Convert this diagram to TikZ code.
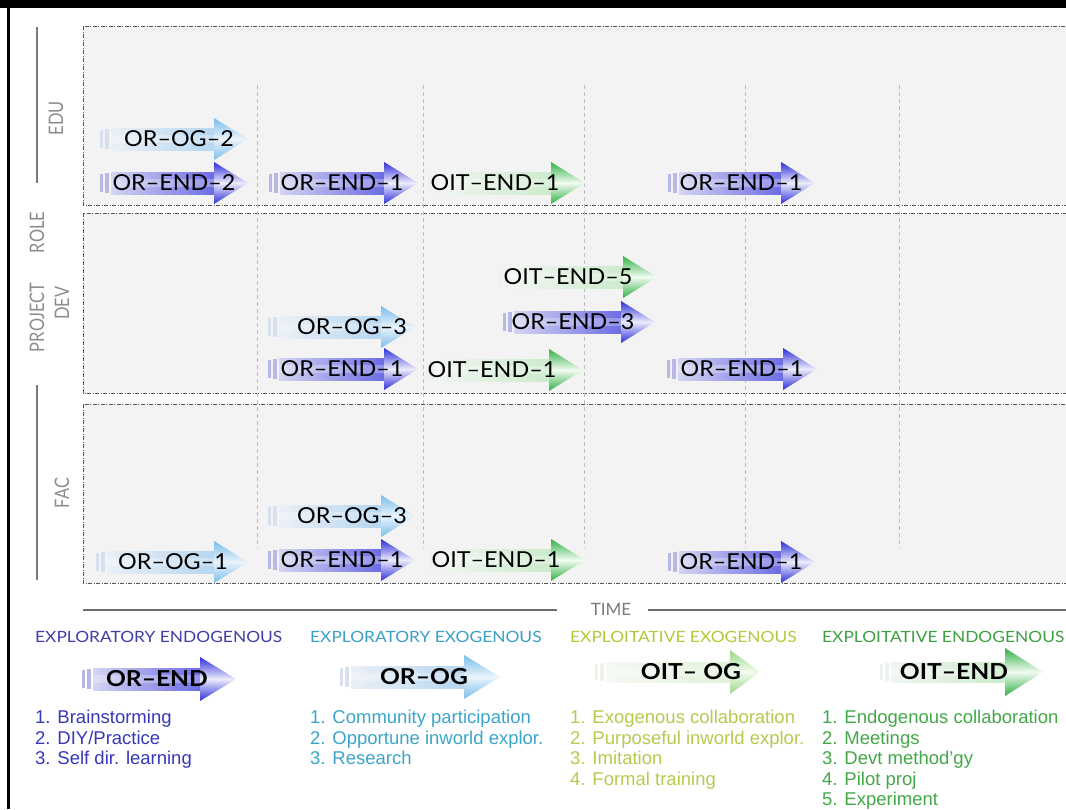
\documentclass[tikz,border=0pt]{standalone}
\usepackage{fontspec}
\setmainfont{Lato}
\newfontfamily\arialfont{Liberation Sans}
\usepackage{graphicx}
\definecolor{panelbg}{HTML}{F3F3F3}
\definecolor{panelln}{HTML}{555555}
\definecolor{gridln}{HTML}{BDBDBD}
\definecolor{axisgray}{HTML}{7A7A7A}
\definecolor{labgray}{HTML}{8C8C8C}
% arrow colours: L body left, R body right, H head edge, M head middle, S stripes
\definecolor{ORENDL}{HTML}{D4D4F2}\definecolor{ORENDR}{HTML}{6C6CE4}
\definecolor{ORENDH}{HTML}{2E2EDA}\definecolor{ORENDM}{HTML}{ECECFB}
\definecolor{ORENDS}{HTML}{B8B8E6}
\definecolor{OROGL}{HTML}{EBF0F7}\definecolor{OROGR}{HTML}{B6D6F0}
\definecolor{OROGH}{HTML}{7ABCEB}\definecolor{OROGM}{HTML}{EAF4FC}
\definecolor{OROGS}{HTML}{D6E0EE}
\definecolor{OITENDL}{HTML}{F1F5F1}\definecolor{OITENDR}{HTML}{CCEBCC}
\definecolor{OITENDH}{HTML}{32B246}\definecolor{OITENDM}{HTML}{F2FBF2}
\definecolor{OITENDS}{HTML}{EEF2EE}
\definecolor{OITOGL}{HTML}{F6F8F4}\definecolor{OITOGR}{HTML}{E2F2DA}
\definecolor{OITOGH}{HTML}{98D886}\definecolor{OITOGM}{HTML}{F4FCF0}
\definecolor{OITOGS}{HTML}{EEF0EA}
\definecolor{hA}{HTML}{3F3FA6}\definecolor{lA}{HTML}{3838B8}
\definecolor{hB}{HTML}{3C9FC8}\definecolor{lB}{HTML}{3CA6C8}
\definecolor{hC}{HTML}{AECB3A}\definecolor{lC}{HTML}{B4CC4E}
\definecolor{hD}{HTML}{3F9F42}\definecolor{lD}{HTML}{43A848}
% #1 type, #2 left x, #3 tip x, #4 centre y, #5 head half height, #6 body half height, #7 head length
\newcommand{\arrowshape}[7]{%
  \shade[left color=#1L, right color=#1R] (#2+11,#4-#6) rectangle (#3-#7,#4+#6);
  \fill[white,opacity=.28] (#2+11,#4-#6*0.35) rectangle (#3-#7,#4+#6*0.35);
  \shade[top color=#1H, bottom color=#1H, middle color=#1M] (#3-#7,#4-#5) -- (#3,#4) -- (#3-#7,#4+#5) -- cycle;
  \fill[#1S] (#2,#4-#6+2) rectangle (#2+2.5,#4+#6-2);
  \fill[#1S] (#2+5,#4-#6+1) rectangle (#2+9,#4+#6-1);
}
\newcommand{\tl}[7]{% type, left, tip, y, text x, name, text
  \arrowshape{#1}{#2}{#3}{#4}{21}{11}{34}
  \node[atext] (#6) at (#5,#4) {\scalebox{1.06}[1]{#7}};
}
\begin{document}
\begin{tikzpicture}[x=1pt,y=-1pt,
  panel/.style={fill=panelbg, draw=panelln, line width=0.7pt,
    dash pattern=on 4pt off 1.5pt on 1pt off 1.5pt},
  vgrid/.style={draw=gridln, line width=0.9pt, dash pattern=on 4pt off 3pt},
  axisline/.style={draw=axisgray, line width=2.4pt},
  timeline/.style={draw=axisgray!90!black, line width=1.6pt},
  atext/.style={inner sep=0pt, text=black, font=\fontsize{22}{24}\selectfont},
  rlabel/.style={rotate=90, inner sep=0pt, text=labgray, font=\fontsize{20}{22}\selectfont},
  hdr/.style={inner sep=0pt, anchor=west, font=\fontsize{15.5}{17}\selectfont},
  item/.style={inner sep=0pt, anchor=base west, font=\arialfont\fontsize{18.5}{20}\selectfont},
  ltext/.style={inner sep=0pt, text=black, font=\bfseries\fontsize{22}{24}\selectfont}]
\useasboundingbox (0,0) rectangle (1066,809);
\clip (0,0) rectangle (1066,809);
\fill[white] (0,0) rectangle (1066,809);
% frame
\fill[black] (0,0) rectangle (1066,8);
\fill[black] (7,0) rectangle (10,809);
% panels
\draw[panel] (83,26) rectangle (1075,205);
\draw[panel] (83,213) rectangle (1075,393);
\draw[panel] (83,404) rectangle (1075,583);
% time grid
\foreach \gx in {257,423,584,745,899}
  \draw[vgrid] (\gx,85) -- (\gx,548);
% role axis
\draw[axisline] (37,27) -- (37,183);
\draw[axisline] (37,385) -- (37,580);
\node[rlabel] (edu) at (56,118) {\scalebox{0.82}[1]{EDU}};
\node[rlabel] (role) at (37,282) {\scalebox{0.82}[1]{PROJECT\hspace{36pt}ROLE}};
\node[rlabel] (dev) at (62,303) {\scalebox{0.82}[1]{DEV}};
\node[rlabel] (fac) at (62,493) {\scalebox{0.82}[1]{FAC}};
% EDU row
\tl{OROG}{100}{248}{139}{179}{edu1}{OR–OG–2}
\tl{OREND}{100}{248}{183}{174}{edu2}{OR–END–2}
\tl{OREND}{269}{418}{183}{342}{edu3}{OR–END–1}
\tl{OITEND}{428}{585}{183}{495}{edu4}{OIT–END–1}
\tl{OREND}{668}{815}{183}{741}{edu5}{OR–END–1}
% DEV row
\tl{OITEND}{499}{657}{277}{568}{dev1}{OIT–END–5}
\tl{OREND}{503}{655}{322}{573}{dev2}{OR–END–3}
\tl{OROG}{268}{415}{327}{352}{dev3}{OR–OG–3}
\tl{OREND}{268}{418}{369}{342}{dev4}{OR–END–1}
\tl{OITEND}{425}{583}{370}{492}{dev5}{OIT–END–1}
\tl{OREND}{667}{817}{369}{742}{dev6}{OR–END–1}
% FAC row
\tl{OROG}{268}{415}{516}{352}{fac1}{OR–OG–3}
\tl{OROG}{96}{248}{562}{173}{fac2}{OR–OG–1}
\tl{OREND}{268}{415}{560}{342}{fac3}{OR–END–1}
\tl{OITEND}{430}{585}{560}{496}{fac4}{OIT–END–1}
\tl{OREND}{668}{815}{562}{741}{fac5}{OR–END–1}
% time axis
\node[inner sep=0pt, text=axisgray, font=\fontsize{17}{18}\selectfont] (time) at (611,609) {TIME};
\coordinate (tl0) at (83,610);
\coordinate (tl1) at (1066,610);
\coordinate (tl2) at (557,610);
\coordinate (tl3) at (648,610);
\draw[timeline] (tl0) -- (tl2);
\draw[timeline] (tl3) -- (tl1);
% legend headers
\node[hdr, text=hA] (hdA) at (35,637) {\scalebox{1.12}[1]{EXPLORATORY ENDOGENOUS}};
\node[hdr, text=hB] (hdB) at (310,637) {\scalebox{1.12}[1]{EXPLORATORY EXOGENOUS}};
\node[hdr, text=hC] (hdC) at (570,637) {\scalebox{1.12}[1]{EXPLOITATIVE EXOGENOUS}};
\node[hdr, text=hD] (hdD) at (822,637) {\scalebox{1.12}[1]{EXPLOITATIVE ENDOGENOUS}};
% legend arrows
\arrowshape{OREND}{82}{236}{679}{22}{11}{36}
\node[ltext] (lgA) at (157,679) {\scalebox{1.12}[1]{OR–END}};
\arrowshape{OROG}{340}{500}{677}{22}{11}{36}
\node[ltext] (lgB) at (424,677) {\scalebox{1.12}[1]{OR–OG}};
\arrowshape{OITOG}{595}{760}{672}{22}{10}{30}
\node[ltext] (lgC) at (691,672) {\scalebox{1.12}[1]{OIT– OG}};
\arrowshape{OITEND}{880}{1043}{672}{24}{10}{38}
\node[ltext] (lgD) at (954,672) {\scalebox{1.12}[1]{OIT–END}};
% legend lists
\foreach \t [count=\i] in {1. Brainstorming, 2. DIY/Practice, 3. Self dir. learning}
  \node[item, text=lA] (lstA\i) at (35,723.5+20.6*\i-20.6) {\t};
\foreach \t [count=\i] in {1. Community participation, 2. Opportune inworld explor., 3. Research}
  \node[item, text=lB] (lstB\i) at (310,723.5+20.6*\i-20.6) {\t};
\foreach \t [count=\i] in {1. Exogenous collaboration, 2. Purposeful inworld explor., 3. Imitation, 4. Formal training}
  \node[item, text=lC] (lstC\i) at (570,723.5+20.6*\i-20.6) {\t};
\foreach \t [count=\i] in {1. Endogenous collaboration, 2. Meetings, 3. Devt method’gy, 4. Pilot proj, 5. Experiment}
  \node[item, text=lD] (lstD\i) at (822,723.5+20.6*\i-20.6) {\t};
\end{tikzpicture}
\end{document}
